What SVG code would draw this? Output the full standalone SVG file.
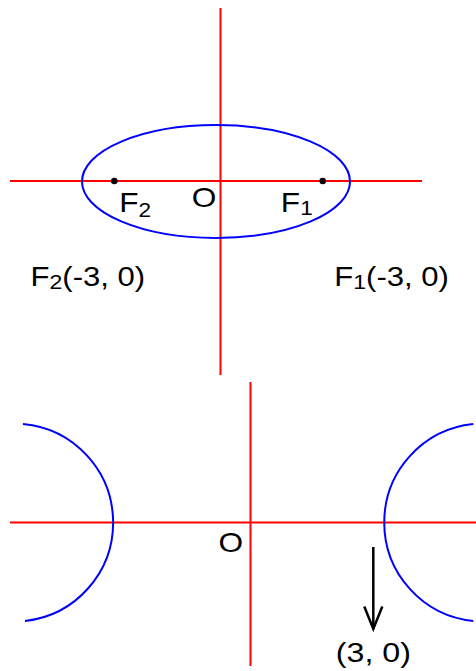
<svg xmlns="http://www.w3.org/2000/svg" width="476" height="671" viewBox="0 0 476 671">
<style>
.ax{stroke:#ff0000;stroke-width:2;fill:none}
.cv{stroke:#0000ff;stroke-width:2;fill:none}
.t{font-family:"Liberation Sans",Arial,sans-serif;font-size:27px;fill:#000}
.b{font-size:28px}
.s{font-size:20px}
</style>
<rect width="476" height="671" fill="#fff"/>
<g id="connectors">
<line class="ax" x1="220.5" y1="8" x2="220.5" y2="375"/>
<line class="ax" x1="10" y1="181" x2="422" y2="181"/>
<line class="ax" x1="250.5" y1="382" x2="250.5" y2="666"/>
<line class="ax" x1="10" y1="522.5" x2="476" y2="522.5"/>
<g stroke="#000" stroke-width="2.5" fill="none">
<line x1="373.3" y1="547" x2="373.3" y2="629"/>
<polyline points="364.3,606.5 373.3,629 382.3,606.5"/>
</g>
</g>
<g id="ellipse"><ellipse class="cv" cx="216" cy="181.5" rx="134" ry="56.5"/></g>
<g id="F2dot"><circle cx="114.3" cy="181" r="3.3" fill="#000"/></g>
<g id="F1dot"><circle cx="322.7" cy="181" r="3.3" fill="#000"/></g>
<g id="labelsTop">
<text class="t b" transform="translate(119.2,211.7) scale(1.13,1)">F<tspan class="s" dy="5.6">2</tspan></text>
<text class="t b" transform="translate(191.8,207.2) scale(1.13,1)">O</text>
<text class="t b" transform="translate(280.8,211.7) scale(1.13,1)">F<tspan class="s" dy="3.3">1</tspan></text>
<text class="t" transform="translate(30.6,286) scale(1.15,1)">F<tspan class="s" dy="3">2</tspan><tspan dy="-3">(-3, 0)</tspan></text>
<text class="t" transform="translate(334.3,285.7) scale(1.15,1)">F<tspan class="s" dy="3">1</tspan><tspan dy="-3">(-3, 0)</tspan></text>
</g>
<g id="leftBranch"><path class="cv" d="M23,424 A99,99 0 0 1 25,621"/></g>
<g id="rightBranch"><path class="cv" d="M473.3,424 A99,99 0 0 0 473.3,621"/></g>
<g id="labelsBottom">
<text class="t b" transform="translate(218.5,551.8) scale(1.13,1)">O</text>
<text class="t b" transform="translate(335.8,662) scale(1.15,1)">(3, 0)</text>
</g>
</svg>
